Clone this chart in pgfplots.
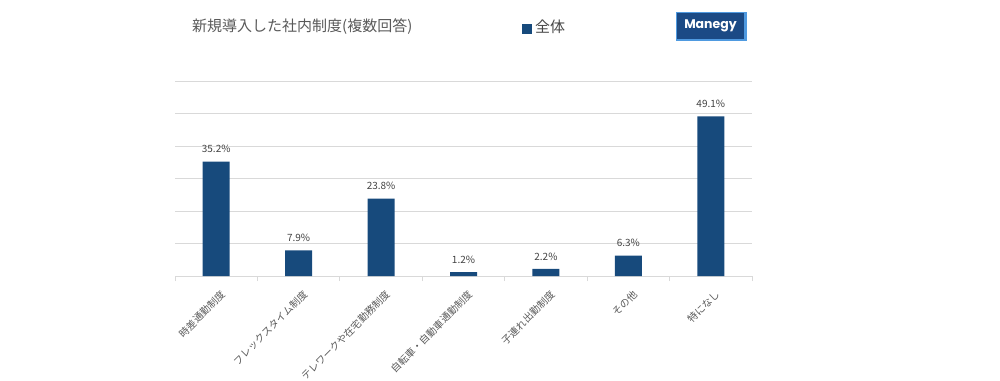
\documentclass[border=0pt]{standalone}
\usepackage{pgfplots}
\pgfplotsset{compat=1.18}
\usepackage{fontspec}
\setmainfont{Noto Sans CJK JP}
\newfontfamily\logofont{Poppins}
\definecolor{barc}{HTML}{174A7C}
\definecolor{txt}{HTML}{595959}
\definecolor{gridc}{HTML}{D9D9D9}
\definecolor{logob}{HTML}{1B4A85}
\definecolor{logol}{HTML}{4F9AE0}
\begin{document}
\begin{tikzpicture}[x=1pt,y=1pt]
\path[use as bounding box] (0,0) rectangle (1000,380);
\begin{axis}[at={(175pt,104pt)}, anchor=south west, width=577pt, height=195pt, scale only axis,
  ymin=0, ymax=60, xmin=-0.5, xmax=6.5, enlarge x limits=false,
  ybar, bar width=27pt,
  ytick={0,10,...,60}, yticklabels={}, ymajorgrids, grid style={gridc, line width=0.8pt},
  axis x line*=bottom, axis y line*=left,
  y axis line style={draw=none}, major y tick style={draw=none},
  x axis line style={gridc, line width=0.8pt},
  xtick={0,...,6},
  xticklabels={時差通勤制度,フレックスタイム制度,テレワークや在宅勤務制度,自転車・自動車通勤制度,子連れ出勤制度,その他,特になし},
  major x tick style={draw=none},
  minor xtick={-0.5,0.5,...,6.5}, minor tick length=5pt, tick align=outside,
  minor x tick style={gridc, line width=0.8pt},
  xticklabel style={rotate=45, anchor=north east, font=\fontsize{10}{12}\selectfont, text=txt, inner sep=1pt, xshift=-3pt, yshift=-8pt},
  /pgf/number format/assume math mode=true,
  nodes near coords={\pgfmathprintnumber[fixed,precision=1,zerofill]{\pgfplotspointmeta}\%},
  every node near coord/.append style={font=\fontsize{10}{11}\selectfont, text=txt!75!black, yshift=5pt},
]
\addplot[fill=barc, draw=none] coordinates {(0,35.2)(1,7.9)(2,23.8)(3,1.2)(4,2.2)(5,6.3)(6,49.1)};
\end{axis}
\node[anchor=west, text=txt, font=\fontsize{15}{18}\selectfont, inner sep=0pt] at (192,353) {新規導入した社内制度(複数回答)};
\fill[barc] (522,346) rectangle (532,356);
\node[anchor=west, text=txt!80!black, font=\fontsize{15}{18}\selectfont, inner sep=0pt] at (535,353) {全体};
\fill[logol] (676,339) rectangle (747,368);
\fill[logob] (677,341) rectangle (744,367);
\node[text=white, font=\logofont\bfseries\fontsize{12.5}{15}\selectfont] at (710.5,354) {Manegy};
\end{tikzpicture}
\end{document}
